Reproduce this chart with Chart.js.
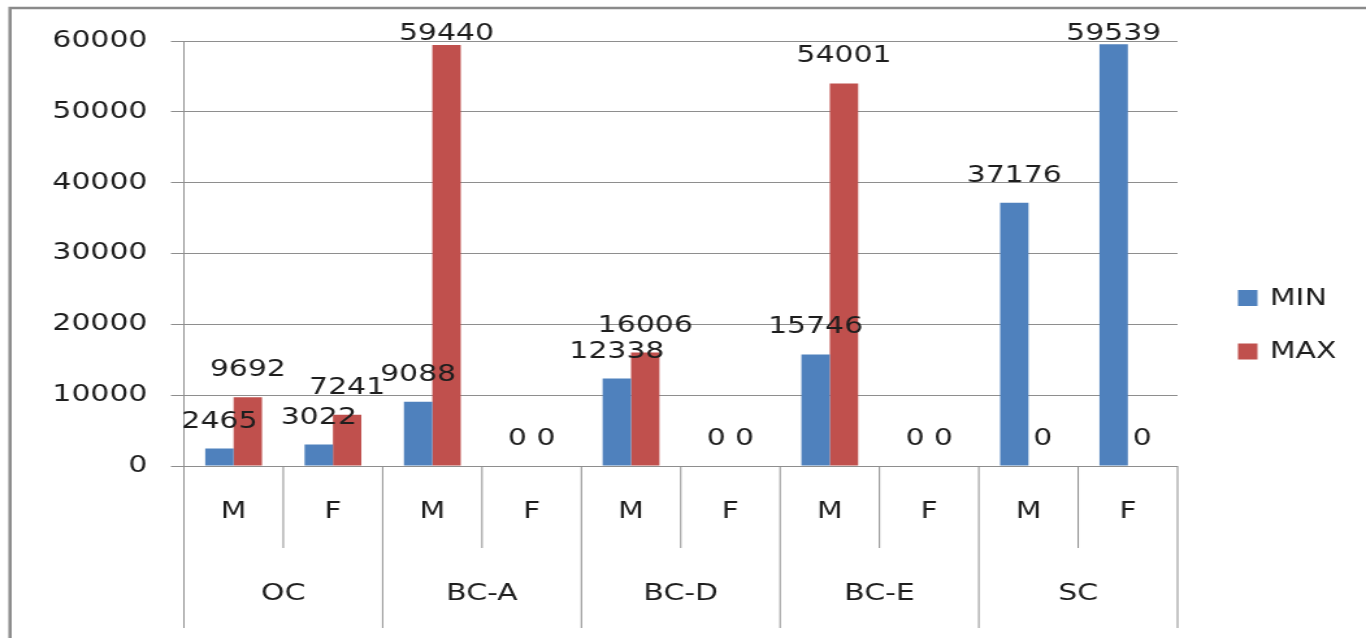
<!DOCTYPE html>
<html>
<head>
<meta charset="utf-8">
<script src="https://cdn.jsdelivr.net/npm/chart.js@4/dist/chart.umd.min.js"></script>
<style>
  html, body { margin: 0; padding: 0; background: #fff; overflow: hidden; }
  /* the original picture is stretched sideways, so stretch the canvas the same way */
  #wrap { width: 1051px; height: 638px; transform-origin: 0 0; }
</style>
</head>
<body>
<div id="wrap"><canvas id="chart" width="1051" height="638"></canvas></div>
<script>
// data
const categories = ['M', 'F', 'M', 'F', 'M', 'F', 'M', 'F', 'M', 'F'];
const groups = ['OC', 'BC-A', 'BC-D', 'BC-E', 'SC'];
const minValues = [2465, 3022, 9088, 0, 12338, 0, 15746, 0, 37176, 59539];
const maxValues = [9692, 7241, 59440, 0, 16006, 0, 54001, 0, 0, 0];
const yMin = 0, yMax = 60000, yStep = 10000;

const stretch = 1366 / 1051;
document.getElementById('wrap').style.transform = 'scaleX(' + stretch + ')';

const FONT = '"DejaVu Sans", Verdana, sans-serif';
const textColor = '#1e1e1e';
const lineColor = '#8e8e8e';

// frame, value labels, two-level category axis and legend
const excelBits = {
    id: 'excelBits',
    beforeDraw(chart) {
        const ctx = chart.ctx;
        ctx.save();
        ctx.fillStyle = '#fff';
        ctx.fillRect(0, 0, chart.width, chart.height);
        ctx.strokeStyle = '#8a8a8a';
        ctx.lineWidth = 2.5;
        ctx.strokeRect(7.7, 8, chart.width + 20, chart.height + 20);
        ctx.restore();
    },
    afterDraw(chart) {
        const ctx = chart.ctx;
        const area = chart.chartArea;
        const x = chart.scales.x;
        const catW = (area.right - area.left) / categories.length;
        ctx.save();

        // separators under the axis
        ctx.strokeStyle = lineColor;
        ctx.lineWidth = 1;
        for (let i = 0; i <= categories.length; i++) {
            const px = area.left + i * catW;
            const end = (i % 2 === 0) ? 628 : 548;
            ctx.beginPath();
            ctx.moveTo(px, area.bottom);
            ctx.lineTo(px, end);
            ctx.stroke();
        }

        ctx.fillStyle = textColor;
        ctx.font = '23px ' + FONT;
        ctx.textAlign = 'center';
        ctx.textBaseline = 'middle';
        categories.forEach((c, i) => {
            ctx.fillText(c, x.getPixelForValue(i), 512);
        });
        groups.forEach((g, i) => {
            const mid = (x.getPixelForValue(i * 2) + x.getPixelForValue(i * 2 + 1)) / 2;
            ctx.fillText(g, mid, 594);
        });

        // value labels above each bar
        ctx.textBaseline = 'alphabetic';
        chart.data.datasets.forEach((ds, di) => {
            chart.getDatasetMeta(di).data.forEach((bar, i) => {
                const y = Math.max(bar.y - 21, 40);
                ctx.fillText(String(ds.data[i]), bar.x, y);
            });
        });

        // legend
        ctx.textAlign = 'left';
        ctx.textBaseline = 'middle';
        const legendY = [298, 351.5];
        chart.data.datasets.forEach((ds, di) => {
            ctx.fillStyle = ds.backgroundColor;
            ctx.fillRect(952.5, legendY[di] - 8, 15, 16);
            ctx.fillStyle = textColor;
            ctx.fillText(ds.label, 977, legendY[di] + 1);
        });
        ctx.restore();
    }
};

new Chart(document.getElementById('chart'), {
    type: 'bar',
    data: {
        labels: categories,
        datasets: [
            { label: 'MIN', data: minValues, backgroundColor: '#4F81BD' },
            { label: 'MAX', data: maxValues, backgroundColor: '#C0504D' }
        ]
    },
    options: {
        responsive: false,
        animation: false,
        devicePixelRatio: 1,
        categoryPercentage: 2 / 3.5,
        barPercentage: 1,
        layout: { padding: { left: 0, right: 145, top: 41, bottom: 172 } },
        plugins: {
            legend: { display: false },
            tooltip: { enabled: false }
        },
        scales: {
            x: { display: false },
            y: {
                min: yMin,
                max: yMax,
                afterFit: (s) => { s.width = 141.5; },
                ticks: {
                    stepSize: yStep,
                    padding: 18,
                    color: textColor,
                    font: { family: FONT, size: 23 },
                    callback: (v) => String(v)
                },
                grid: { color: lineColor, lineWidth: 1, tickLength: 10 },
                border: { color: lineColor, width: 1 }
            }
        }
    },
    plugins: [excelBits]
});
</script>
</body>
</html>
